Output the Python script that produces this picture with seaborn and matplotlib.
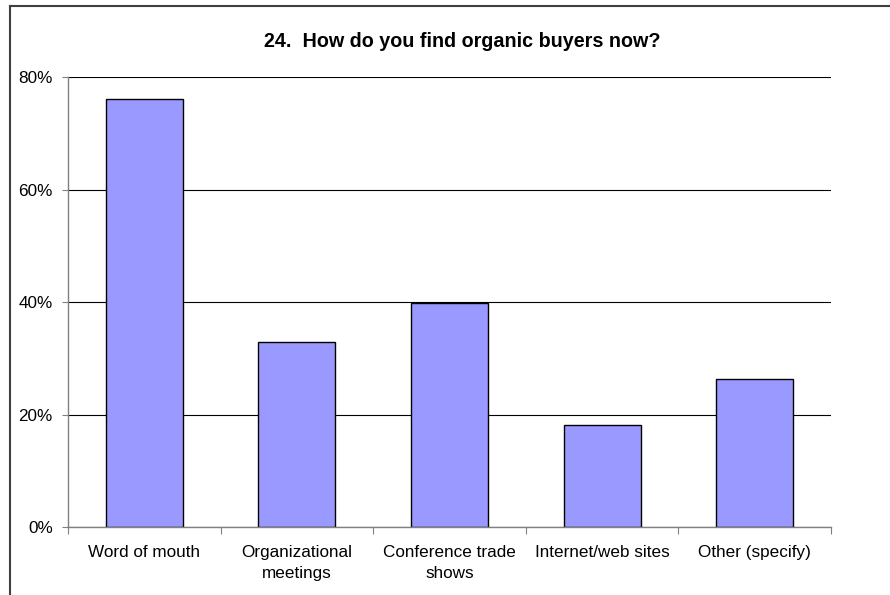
import matplotlib
matplotlib.use("Agg")
import matplotlib.pyplot as plt
from matplotlib.lines import Line2D
import seaborn as sns
import pandas as pd

# Survey responses (percent of respondents)
categories = ["Word of mouth", "Organizational\nmeetings", "Conference trade\nshows",
              "Internet/web sites", "Other (specify)"]
values = [76.2, 33.0, 39.8, 18.2, 26.3]
y_ticks = [0, 20, 40, 60, 80]
y_tick_labels = ["0%", "20%", "40%", "60%", "80%"]
title = "24.  How do you find organic buyers now?"

sns.set_theme(style="white")
plt.rcParams["font.family"] = ["Liberation Sans", "DejaVu Sans"]

W, H = 890, 595
fig = plt.figure(figsize=(W / 100, H / 100), dpi=100)
ax = fig.add_axes([68 / W, 1 - 527.3 / H, (831 - 68) / W, (527.3 - 77.3) / H])

df = pd.DataFrame({"category": categories, "value": values})
ax.set_axisbelow(True)
sns.barplot(data=df, x="category", y="value", color="#9999FF", saturation=1,
            edgecolor="black", linewidth=1.0, width=0.505, ax=ax)

ax.set_xlim(-0.5, len(categories) - 0.5)
ax.set_ylim(0, 80)
ax.set_yticks(y_ticks)
ax.set_yticklabels(y_tick_labels, fontsize=12.3, color="black")
ax.yaxis.grid(True, color="black", linewidth=0.8)
ax.xaxis.grid(False)

# category boundaries as major ticks, labels at centers as minor ticks
ax.set_xticks([i - 0.5 for i in range(len(categories) + 1)])
ax.set_xticklabels([])
ax.set_xticks(list(range(len(categories))), minor=True)
ax.set_xticklabels(categories, minor=True, fontsize=12.3, color="black",
                   linespacing=1.5)
ax.tick_params(axis="x", which="major", direction="out", length=5, width=0.8,
               color="#808080", bottom=True)
ax.tick_params(axis="x", which="minor", length=0, pad=13)
ax.tick_params(axis="y", direction="out", length=4, width=0.8, color="#808080",
               left=True, pad=7)
ax.set_xlabel("")
ax.set_ylabel("")

for side in ["top", "right"]:
    ax.spines[side].set_visible(False)
for side in ["left", "bottom"]:
    ax.spines[side].set_color("#808080")
    ax.spines[side].set_linewidth(1.0)

fig.text(462 / W, 1 - 47 / H, title, ha="center", va="baseline",
         fontsize=14.2, fontweight="bold", color="black")

# chart area frame (left and top edges)
x0, y0 = 9.5 / W, 1 - 6 / H
fig.add_artist(Line2D([x0, x0], [-0.05, y0], color="#404040", linewidth=1.5,
                      solid_capstyle="projecting"))
fig.add_artist(Line2D([x0, 1.05], [y0, y0], color="#404040", linewidth=1.5,
                      solid_capstyle="projecting"))

fig.savefig("out.png", dpi=100, facecolor="white")
